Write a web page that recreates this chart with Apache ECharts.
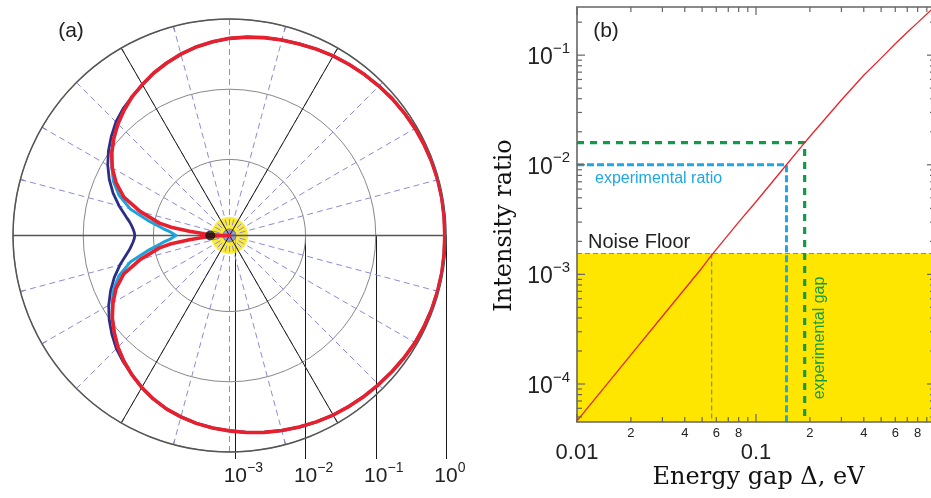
<!DOCTYPE html>
<html>
<head>
<meta charset="utf-8">
<title>Angular pattern and intensity ratio</title>
<script src="https://cdn.jsdelivr.net/npm/echarts@6.0.0/dist/echarts.min.js"></script>
<style>
  html, body { margin: 0; padding: 0; background: #fff; }
  #chart { width: 931px; height: 498px; }
</style>
</head>
<body>
<div id="chart"></div>
<script>
// ---------- (a) angular patterns, radius on a log scale ----------
// angles (deg) of the forward lobe, where the three patterns coincide
const frontAnglesUpper = [0, 5, 10, 15, 20, 25, 30, 35, 40, 45, 50, 55, 60, 65, 70, 75, 80, 85, 90, 95, 100, 105, 110, 115, 120];
const frontLobeUpper = [0.96, 0.965, 0.97, 0.97, 0.96, 0.945, 0.93, 0.905, 0.88, 0.845, 0.81, 0.775, 0.74, 0.70, 0.66, 0.63, 0.60, 0.565, 0.53, 0.485, 0.44, 0.39, 0.34, 0.295, 0.25];
const frontAnglesLower = [245, 250, 255, 260, 265, 270, 275, 280, 285, 290, 295, 300, 305, 310, 315, 320, 325, 330, 335, 340, 345, 350, 355, 360];
const frontLobeLower = [0.305, 0.35, 0.39, 0.43, 0.465, 0.50, 0.54, 0.58, 0.62, 0.66, 0.70, 0.74, 0.77, 0.80, 0.83, 0.86, 0.895, 0.93, 0.945, 0.96, 0.965, 0.97, 0.965, 0.96];
// angles (deg) of the backward region, where the patterns separate
const rearAngles = [
  125, 130, 135, 140, 145, 150, 155, 160, 165, 170, 172, 174, 176, 177, 178, 180,
  182, 183, 184, 186, 188, 190, 195, 200, 205, 210, 215, 220, 225, 230, 235, 240
];
const redRear = [
  0.215, 0.178, 0.146, 0.117, 0.092, 0.070, 0.050, 0.033, 0.017, 0.0085, 0.0057, 0.0031, 0.0019, 0.0016, 0.0011, 0.00083,
  0.0011, 0.0016, 0.0019, 0.0031, 0.0057, 0.0085, 0.017, 0.033, 0.050, 0.068, 0.090, 0.115, 0.146, 0.180, 0.218, 0.26
];
const cyanRear = [
  0.215, 0.178, 0.146, 0.117, 0.092, 0.071, 0.055, 0.039, 0.024, 0.0118, 0.0090, 0.0074, 0.0060, 0.0056, 0.0053, 0.0048,
  0.0053, 0.0056, 0.0060, 0.0074, 0.0090, 0.0118, 0.024, 0.039, 0.055, 0.070, 0.090, 0.115, 0.146, 0.180, 0.218, 0.26
];
const navyRear = [
  0.215, 0.188, 0.160, 0.130, 0.105, 0.083, 0.064, 0.048, 0.035, 0.0255, 0.0228, 0.0210, 0.0197, 0.0192, 0.0188, 0.0184,
  0.0188, 0.0192, 0.0197, 0.0210, 0.0226, 0.0250, 0.034, 0.046, 0.061, 0.080, 0.102, 0.127, 0.157, 0.186, 0.218, 0.26
];
const radialMin = 8.25e-4;
const radialMax = 1;
const radialLabelMin = 1e-3;
const noiseFloor = 1.55e-3;

// ---------- (b) intensity ratio against energy gap ----------
const gapEV = [0.01, 0.02, 0.03, 0.05, 0.0565, 0.08, 0.1, 0.148, 0.187, 0.2, 0.3, 0.4, 0.5, 0.6, 0.7, 0.8, 0.96];
const intensityRatio = [4.6e-5, 1.84e-4, 4.15e-4, 1.15e-3, 1.5e-3, 3.0e-3, 4.6e-3, 0.0100, 0.0159, 0.0181, 0.0390, 0.0655, 0.094, 0.127, 0.162, 0.198, 0.262];
const xMin = 0.01, xMax = 1;
const yMin = 4.5e-5, yMax = 0.275;
const noiseCrossGap = 0.0565;
const expRatio = 0.01, expRatioGap = 0.148;
const expGap = 0.187, expGapRatio = 0.0159;
const xMajorLabels = [0.01, 0.1];
const xMajorTicks = [0.01, 0.1];
const xMinorTicks = [0.02, 0.03, 0.04, 0.05, 0.06, 0.07, 0.08, 0.09, 0.2, 0.3, 0.4, 0.5, 0.6, 0.7, 0.8, 0.9];
const xMinorLabels = [0.02, 0.04, 0.06, 0.08, 0.2, 0.4, 0.6, 0.8];
const yMajorTicks = [1e-4, 1e-3, 1e-2, 1e-1];
const yMinorTicks = [
  5e-5, 6e-5, 7e-5, 8e-5, 9e-5,
  2e-4, 3e-4, 4e-4, 5e-4, 6e-4, 7e-4, 8e-4, 9e-4,
  2e-3, 3e-3, 4e-3, 5e-3, 6e-3, 7e-3, 8e-3, 9e-3,
  2e-2, 3e-2, 4e-2, 5e-2, 6e-2, 7e-2, 8e-2, 9e-2,
  2e-1
];

// ---------- assembled polar curves ----------
const angleDeg = frontAnglesUpper.concat(rearAngles, frontAnglesLower);
const redPattern = frontLobeUpper.concat(redRear, frontLobeLower);
const cyanPattern = frontLobeUpper.concat(cyanRear, frontLobeLower);
const navyPattern = frontLobeUpper.concat(navyRear, frontLobeLower);

// ---------- layout ----------
const polarCenter = [229.5, 235.5];
const polarRadius = 216.5;
const decadePx = polarRadius / Math.log10(radialMax / radialMin);
const labelGridLeft = polarCenter[0] + decadePx * Math.log10(radialLabelMin / radialMin);
const labelGridWidth = decadePx * Math.log10(radialMax / radialLabelMin);

const SANS = 'Liberation Sans';
const SERIF = 'DejaVu Serif';
const axisGray = '#666';

function isPow10(v) {
  const e = Math.log10(v);
  return Math.abs(e - Math.round(e)) < 1e-6;
}
function leftTickLabel(v) {
  if (!isPow10(v)) return '';
  const e = Math.round(Math.log10(v));
  const sup = (e < 0 ? '\u2212' : '') + Math.abs(e);
  return '{g|' + sup + '}{b|10}{s|' + sup + '}';
}
function rightTickLabel(v) {
  if (!isPow10(v)) return '';
  const e = Math.round(Math.log10(v));
  return '{b|10}{s|' + (e < 0 ? '\u2212' : '') + Math.abs(e) + '}';
}
function bottomMajorLabel(v) {
  for (const m of xMajorLabels) {
    if (Math.abs(Math.log10(v) - Math.log10(m)) < 1e-6) return String(m);
  }
  return '';
}

function xTickSeries(values, len) {
  return {
    type: 'custom', xAxisIndex: 1, yAxisIndex: 1, z: 11, silent: true, clip: false,
    data: values.map(v => [v, yMin]),
    renderItem: function (params, api) {
      const v = api.value(0);
      const b = api.coord([v, yMin]);
      const t = api.coord([v, yMax]);
      const st = { stroke: axisGray, lineWidth: 1.2 };
      return { type: 'group', children: [
        { type: 'line', shape: { x1: b[0], y1: b[1], x2: b[0], y2: b[1] - len }, style: st },
        { type: 'line', shape: { x1: t[0], y1: t[1], x2: t[0], y2: t[1] + len }, style: st }
      ] };
    }
  };
}
function yTickSeries(values, len) {
  return {
    type: 'custom', xAxisIndex: 1, yAxisIndex: 1, z: 11, silent: true, clip: false,
    data: values.map(v => [xMin, v]),
    renderItem: function (params, api) {
      const v = api.value(1);
      const l = api.coord([xMin, v]);
      const r = api.coord([xMax, v]);
      const st = { stroke: axisGray, lineWidth: 1.2 };
      return { type: 'group', children: [
        { type: 'line', shape: { x1: l[0], y1: l[1], x2: l[0] + len, y2: l[1] }, style: st },
        { type: 'line', shape: { x1: r[0], y1: r[1], x2: r[0] - len, y2: r[1] }, style: st }
      ] };
    }
  };
}

function polarLine(values, color, width, z) {
  return {
    type: 'line', coordinateSystem: 'polar', polarIndex: 0,
    data: angleDeg.map((a, i) => [values[i], a]),
    showSymbol: false, symbol: 'none', smooth: false, z: z, silent: true,
    lineStyle: { color: color, width: width, cap: 'round', join: 'round' }
  };
}

const chart = echarts.init(document.getElementById('chart'), null, { renderer: 'canvas' });

const option = {
  animation: false,
  backgroundColor: '#fff',
  textStyle: { fontFamily: SANS },
  polar: [
    { center: polarCenter, radius: polarRadius },
    { center: polarCenter, radius: polarRadius },
    { center: polarCenter, radius: polarRadius }
  ],
  angleAxis: [
    {
      polarIndex: 0, type: 'value', min: 0, max: 360, interval: 15, startAngle: 0, clockwise: false, z: 1,
      axisLine: { show: true, lineStyle: { color: '#555', width: 1.5 } },
      axisTick: { show: true, inside: true, length: 5, lineStyle: { color: '#555', width: 1 } },
      axisLabel: { show: false },
      splitLine: { show: true, lineStyle: { color: '#8c8cd4', width: 1, type: [6, 4] } }
    },
    {
      polarIndex: 1, type: 'value', min: 0, max: 360, interval: 60, startAngle: 0, clockwise: false, z: 1,
      axisLine: { show: false }, axisTick: { show: false }, axisLabel: { show: false },
      splitLine: { show: true, lineStyle: { color: '#1a1a1a', width: 1 } }
    },
    {
      polarIndex: 2, type: 'value', min: 0, max: 360, interval: 180, startAngle: 0, clockwise: false, z: 1,
      axisLine: { show: false }, axisTick: { show: false }, axisLabel: { show: false },
      splitLine: { show: true, lineStyle: { color: '#555', width: 1.5 } }
    }
  ],
  radiusAxis: [
    {
      polarIndex: 0, type: 'log', min: radialMin, max: radialMax, z: 1,
      axisLine: { show: false }, axisTick: { show: false }, axisLabel: { show: false },
      splitLine: { show: true, lineStyle: { color: '#888', width: 1 } }
    },
    { polarIndex: 1, type: 'value', min: 0, max: 1, axisLine: { show: false }, axisTick: { show: false }, axisLabel: { show: false }, splitLine: { show: false } },
    { polarIndex: 2, type: 'value', min: 0, max: 1, axisLine: { show: false }, axisTick: { show: false }, axisLabel: { show: false }, splitLine: { show: false } }
  ],
  grid: [
    { left: labelGridLeft, width: labelGridWidth, top: polarCenter[1], height: 223.5, containLabel: false, outerBoundsMode: 'none' },
    { left: 577, right: -4, top: 7, bottom: 76, containLabel: false, outerBoundsMode: 'none' }
  ],
  xAxis: [
    {
      gridIndex: 0, type: 'log', min: radialLabelMin, max: radialMax, position: 'bottom',
      axisLine: { show: false }, axisTick: { show: false },
      splitLine: { show: true, lineStyle: { color: '#1a1a1a', width: 1 } },
      axisLabel: {
        formatter: leftTickLabel, margin: 2,
        rich: {
          b: { fontSize: 21, color: '#222', lineHeight: 26, verticalAlign: 'bottom', fontFamily: SANS },
          s: { fontSize: 14, color: '#222', lineHeight: 26, verticalAlign: 'top', fontFamily: SANS },
          g: { fontSize: 14, color: 'rgba(0,0,0,0)', lineHeight: 26, verticalAlign: 'top', fontFamily: SANS }
        }
      }
    },
    {
      gridIndex: 1, type: 'log', min: xMin, max: xMax, position: 'bottom', z: 12,
      axisLine: { show: true, lineStyle: { color: axisGray, width: 1.6 } },
      axisTick: { show: false }, splitLine: { show: false },
      axisLabel: { formatter: bottomMajorLabel, fontSize: 22, color: '#222', margin: 20, fontFamily: SANS }
    },
    {
      gridIndex: 1, type: 'log', min: xMin, max: xMax, position: 'top', z: 12,
      axisLine: { show: true, lineStyle: { color: axisGray, width: 1.6 } },
      axisTick: { show: false }, splitLine: { show: false }, axisLabel: { show: false }
    }
  ],
  yAxis: [
    { gridIndex: 0, type: 'value', min: 0, max: 1, show: false },
    {
      gridIndex: 1, type: 'log', min: yMin, max: yMax, position: 'left', z: 12,
      axisLine: { show: true, lineStyle: { color: axisGray, width: 1.6 } },
      axisTick: { show: false }, splitLine: { show: false },
      axisLabel: {
        formatter: rightTickLabel, margin: 7,
        rich: {
          b: { fontSize: 23, color: '#222', lineHeight: 28, verticalAlign: 'bottom', fontFamily: SANS },
          s: { fontSize: 15, color: '#222', lineHeight: 28, verticalAlign: 'top', fontFamily: SANS }
        }
      }
    }
  ],
  series: [
    // centre markers of panel (a)
    {
      type: 'scatter', coordinateSystem: 'polar', polarIndex: 0, z: 0, silent: true,
      data: [[radialMin, 0]], symbol: 'circle', symbolSize: 37,
      itemStyle: { color: '#f7e50c' }
    },
    {
      type: 'scatter', coordinateSystem: 'polar', polarIndex: 0, z: 0.5, silent: true,
      data: [[radialMin, 0]], symbol: 'circle', symbolSize: 13,
      itemStyle: { color: '#a8a8a8', borderColor: '#6e6e6e', borderWidth: 1 }
    },
    polarLine(navyPattern, '#2e2d86', 2.8, 3),
    polarLine(cyanPattern, '#1ba3de', 3, 3.1),
    polarLine(redPattern, '#e8202d', 3.6, 3.2),
    {
      type: 'scatter', coordinateSystem: 'polar', polarIndex: 0, z: 4, silent: true,
      data: [[noiseFloor, 180]], symbol: 'circle', symbolSize: 10,
      itemStyle: { color: '#111' }
    },

    // panel (b): region below the noise floor
    {
      type: 'custom', xAxisIndex: 1, yAxisIndex: 1, z: 1, silent: true,
      data: [[xMin, noiseFloor]],
      renderItem: function (params, api) {
        const p1 = api.coord([xMin, noiseFloor]);
        const p2 = api.coord([xMax, yMin]);
        return { type: 'rect', shape: { x: p1[0], y: p1[1], width: p2[0] - p1[0], height: p2[1] - p1[1] }, style: { fill: '#ffe600' } };
      }
    },
    {
      type: 'line', xAxisIndex: 1, yAxisIndex: 1, z: 2, silent: true, showSymbol: false, symbol: 'none',
      data: [[xMin, noiseFloor], [xMax, noiseFloor]],
      lineStyle: { color: '#8a8a8a', width: 1.2, type: [5, 3] }
    },
    {
      type: 'line', xAxisIndex: 1, yAxisIndex: 1, z: 2, silent: true, showSymbol: false, symbol: 'none',
      data: [[noiseCrossGap, noiseFloor], [noiseCrossGap, yMin]],
      lineStyle: { color: '#8a8a8a', width: 1.3, type: [5, 3] }
    },
    {
      type: 'line', xAxisIndex: 1, yAxisIndex: 1, z: 3, silent: true, showSymbol: false, symbol: 'none',
      data: [[xMin, expGapRatio], [expGap, expGapRatio], [expGap, yMin]],
      lineStyle: { color: '#109a4a', width: 3.2, type: [7, 6] }
    },
    {
      type: 'line', xAxisIndex: 1, yAxisIndex: 1, z: 3, silent: true, showSymbol: false, symbol: 'none',
      data: [[xMin, expRatio], [expRatioGap, expRatio], [expRatioGap, yMin]],
      lineStyle: { color: '#1ea7e6', width: 3, type: [7, 3] }
    },
    {
      type: 'line', xAxisIndex: 1, yAxisIndex: 1, z: 4, silent: true, showSymbol: false, symbol: 'none',
      data: gapEV.map((g, i) => [g, intensityRatio[i]]),
      lineStyle: { color: '#e8232b', width: 1.3 }
    },
    xTickSeries(xMajorTicks, 8),
    xTickSeries(xMinorTicks, 5),
    yTickSeries(yMajorTicks, 8),
    yTickSeries(yMinorTicks, 5),
    {
      type: 'custom', xAxisIndex: 1, yAxisIndex: 1, z: 11, silent: true, clip: false,
      data: xMinorLabels.map(v => [v, yMin]),
      renderItem: function (params, api) {
        const v = api.value(0);
        const b = api.coord([v, yMin]);
        const digit = Math.round(v / Math.pow(10, Math.floor(Math.log10(v) + 1e-9)));
        return {
          type: 'text', x: b[0], y: b[1] + 5,
          style: { text: String(digit), fontSize: 13, fontFamily: SANS, fill: '#222', align: 'center', verticalAlign: 'top' }
        };
      }
    }
  ],
  graphic: [
    { type: 'text', x: 71, y: 31.5, style: { text: '(a)', fontSize: 21, fontFamily: SANS, fill: '#222', align: 'center', verticalAlign: 'middle' } },
    { type: 'text', x: 606, y: 31.5, style: { text: '(b)', fontSize: 21, fontFamily: SANS, fill: '#222', align: 'center', verticalAlign: 'middle' } },
    { type: 'text', x: 588, y: 242, z: 20, style: { text: 'Noise Floor', fontSize: 20, fontFamily: SANS, fill: '#222', align: 'left', verticalAlign: 'middle' } },
    { type: 'text', x: 595, y: 179, z: 20, style: { text: 'experimental ratio', fontSize: 16, fontFamily: SANS, fill: '#1ea7e6', align: 'left', verticalAlign: 'middle' } },
    { type: 'text', x: 820, y: 338, z: 20, rotation: Math.PI / 2, style: { text: 'experimental gap', fontSize: 16, fontFamily: SANS, fill: '#109a4a', align: 'center', verticalAlign: 'middle' } },
    { type: 'text', x: 505, y: 225.5, rotation: Math.PI / 2, style: { text: 'Intensity ratio', fontSize: 24, fontFamily: SERIF, fill: '#111', align: 'center', verticalAlign: 'middle' } },
    { type: 'text', x: 758.5, y: 478, style: { text: 'Energy gap \u0394, eV', fontSize: 24, fontFamily: SERIF, fill: '#111', align: 'center', verticalAlign: 'middle' } }
  ]
};

chart.setOption(option);
</script>
</body>
</html>
